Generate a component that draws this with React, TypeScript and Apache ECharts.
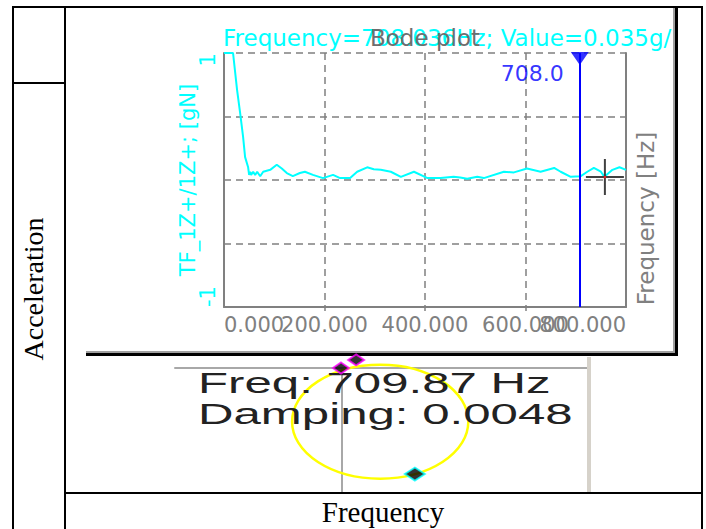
import React, { useEffect, useRef } from 'react';
import * as echarts from 'echarts';

// ---- Bode plot data (TF_1Z+/1Z+, g/N) ----
const freqHz = [0, 18, 26, 32, 38, 42, 48, 50, 52, 54, 58, 62, 66, 72, 78, 92, 105, 115, 125, 137, 151, 161, 177, 197, 217, 231, 251, 265, 285, 298, 312, 332, 352, 378, 405, 431, 457, 470, 484, 504, 517, 557, 577, 603, 630, 657, 670, 690, 710, 723, 736, 750, 757, 773, 787, 800];
const tfValue = [1.0, 1.0, 0.71, 0.53, 0.34, 0.18, 0.1, 0.04, 0.065, 0.04, 0.065, 0.04, 0.065, 0.03, 0.065, 0.08, 0.12, 0.09, 0.055, 0.03, 0.055, 0.065, 0.04, 0.015, 0.04, 0.015, 0.015, 0.065, 0.1, 0.085, 0.08, 0.065, 0.025, 0.065, 0.015, 0.015, 0.025, 0.02, 0.01, 0.025, 0.015, 0.065, 0.06, 0.09, 0.065, 0.095, 0.065, 0.025, 0.03, 0.065, 0.095, 0.065, 0.025, 0.08, 0.1, 0.08];
const xRange = [0, 800];
const xStep = 200;
const yRange = [-1, 1];
const yStep = 0.5;
const cursorFreq = 708.0;
const cursorTop = 1;
const crossPoint = [758, 0.024];

// ---- Mode indicator (Nyquist) panel data ----
const nyqXRange = [-0.41, 0.6];
const nyqYRange = [-1, 0];
const modeCircle = [[0.093, -0.433, 0.216, 0.46]]; // cx, cy, rx, ry
const magentaMarks = [[0.034, 0.065], [-0.003, 0.0]];
const cyanMarks = [[0.178, -0.855]];

// ---- Texts ----
const headerText = 'Frequency=708.036Hz; Value=0.035g/N';
const titleText = 'Bode plot';
const yName = 'TF_1Z+/1Z+; [gN]';
const rightName = 'Frequency [Hz]';
const cursorLabel = '708.0';
const modeFreq = 'Freq: 709.87 Hz';
const modeDamping = 'Damping: 0.0048';
const rowLabel = 'Acceleration';
const colLabel = 'Frequency';

const GRAY = '#808080';
const CYAN = '#00ffff';
const BLUE = '#0000ff';
const SANS = 'DejaVu Sans';
const SERIF = 'Liberation Serif';

function rect(x: number, y: number, w: number, h: number, fill: string, z = 100) {
  return { type: 'rect', z, silent: true, shape: { x, y, width: w, height: h }, style: { fill } };
}

const isEnd = (v: number) => v === xRange[0] || v === xRange[1];

export default function App() {
  const ref = useRef<HTMLDivElement>(null);
  useEffect(() => {
    if (!ref.current) return;
    const chart = echarts.init(ref.current, null, { renderer: 'svg' });
    const dash = { color: GRAY, width: 1.5, type: [7, 5] };
    const xLabelBase = { color: GRAY, fontFamily: SANS, fontSize: 21, margin: 7, hideOverlap: false };
    const mainGrid = { left: 224, right: 80, top: 53, bottom: 222, outerBoundsMode: 'none' };
    const option: any = {
      animation: false,
      backgroundColor: '#ffffff',
      title: [
        { text: headerText, left: 223, top: 26, padding: 0, z: 6, textStyle: { color: CYAN, fontFamily: SANS, fontSize: 23, fontWeight: 'normal' } },
        { text: titleText, left: 425, top: 26, padding: 0, z: 7, textAlign: 'center', textStyle: { color: '#6e6e6e', fontFamily: SANS, fontSize: 23, fontWeight: 'normal' } },
      ],
      grid: [
        mainGrid,
        { left: 175, right: 119, top: 368, bottom: 37, outerBoundsMode: 'none' },
        mainGrid,
      ],
      xAxis: [
        {
          type: 'value', gridIndex: 0, min: xRange[0], max: xRange[1], interval: xStep,
          axisLine: { show: true, onZero: false, lineStyle: { color: GRAY, width: 2 } },
          axisTick: { show: true, length: 4, lineStyle: { color: GRAY, width: 1.5 } },
          axisLabel: {
            ...xLabelBase,
            formatter: (v: number) => (isEnd(v) ? '' : v.toFixed(3)),
            showMinLabel: false, showMaxLabel: false,
          },
          splitLine: { show: true, lineStyle: dash },
        },
        {
          type: 'value', gridIndex: 1, min: nyqXRange[0], max: nyqXRange[1], position: 'top',
          axisLine: { show: true, onZero: true, lineStyle: { color: '#a8a8a8', width: 2 } },
          axisTick: { show: false }, axisLabel: { show: false }, splitLine: { show: false },
        },
        {
          type: 'value', gridIndex: 2, min: xRange[0], max: xRange[1], interval: xStep,
          axisLine: { show: false, onZero: false }, axisTick: { show: false }, splitLine: { show: false },
          axisLabel: {
            ...xLabelBase,
            formatter: (v: number) => (isEnd(v) ? v.toFixed(3) : ''),
            alignMinLabel: 'left', alignMaxLabel: 'right', showMinLabel: true, showMaxLabel: true,
          },
        },
      ],
      yAxis: [
        {
          type: 'value', gridIndex: 0, min: yRange[0], max: yRange[1], interval: yStep,
          name: yName, nameLocation: 'middle', nameGap: 26, nameMoveOverlap: false,
          nameTextStyle: { color: CYAN, fontFamily: SANS, fontSize: 21, padding: [0, 0, 0, 0] },
          axisLine: { show: true, onZero: false, lineStyle: { color: GRAY, width: 2 } },
          axisTick: { show: false },
          axisLabel: {
            color: CYAN, fontFamily: SANS, fontSize: 21, margin: 6, rotate: 90,
            formatter: (v: number) => (v === yRange[1] || v === yRange[0] ? String(v) : ''),
            alignMinLabel: 'left', alignMaxLabel: 'right', showMinLabel: true, showMaxLabel: true, hideOverlap: false,
          },
          splitLine: { show: true, lineStyle: dash },
        },
        {
          type: 'value', gridIndex: 0, position: 'right', min: yRange[0], max: yRange[1], interval: yStep,
          name: rightName, nameLocation: 'middle', nameGap: 8, nameMoveOverlap: false,
          nameTextStyle: { color: GRAY, fontFamily: SANS, fontSize: 23, padding: [0, 77, 0, 0] },
          axisLine: { show: true, onZero: false, lineStyle: { color: GRAY, width: 2 } },
          axisTick: { show: false }, axisLabel: { show: false }, splitLine: { show: false },
        },
        {
          type: 'value', gridIndex: 1, min: nyqYRange[0], max: nyqYRange[1],
          axisLine: { show: true, onZero: true, lineStyle: { color: '#a8a8a8', width: 2 } },
          axisTick: { show: false }, axisLabel: { show: false }, splitLine: { show: false },
        },
        {
          type: 'value', gridIndex: 2, min: yRange[0], max: yRange[1], show: false,
        },
      ],
      series: [
        {
          type: 'line', xAxisIndex: 0, yAxisIndex: 0, z: 3,
          data: freqHz.map((f, i) => [f, tfValue[i]]),
          showSymbol: false, symbol: 'none',
          lineStyle: { color: CYAN, width: 2 }, itemStyle: { color: CYAN },
          markLine: {
            silent: true, symbol: ['none', 'none'],
            lineStyle: { color: BLUE, width: 2, type: 'solid' },
            label: { show: false },
            data: [{ xAxis: cursorFreq }],
          },
        },
        {
          type: 'scatter', xAxisIndex: 0, yAxisIndex: 0, z: 5, clip: false,
          data: [[cursorFreq, cursorTop]],
          symbol: 'triangle', symbolRotate: 180, symbolSize: [18, 13], symbolOffset: [0, 5.5],
          itemStyle: { color: BLUE },
          label: { show: true, position: 'left', distance: 7, offset: [0, 14.5], formatter: () => cursorLabel, color: BLUE, fontFamily: SANS, fontSize: 22 },
        },
        {
          type: 'scatter', xAxisIndex: 0, yAxisIndex: 0, z: 6, clip: false,
          data: [crossPoint],
          symbol: 'path://M0,17H38V19H0ZM18,0H20V36H18Z', symbolSize: [38, 36],
          itemStyle: { color: '#111111' },
        },
        {
          type: 'scatter', xAxisIndex: 0, yAxisIndex: 0, z: 7, clip: false,
          data: [crossPoint], symbol: 'circle', symbolSize: 3,
          itemStyle: { color: '#ff2020' },
        },
        {
          type: 'custom', xAxisIndex: 1, yAxisIndex: 2, z: 2, clip: false,
          data: modeCircle,
          renderItem: (params: any, api: any) => {
            const c = api.coord([api.value(0), api.value(1)]);
            const s = api.size([api.value(2), api.value(3)]);
            const rx = s[0];
            const ry = s[1];
            const d = `M${c[0] - rx},${c[1]}A${rx},${ry},0,1,0,${c[0] + rx},${c[1]}A${rx},${ry},0,1,0,${c[0] - rx},${c[1]}Z`;
            return {
              type: 'path',
              shape: { pathData: d, x: c[0] - rx, y: c[1] - ry, width: 2 * rx, height: 2 * ry },
              style: { fill: 'none', stroke: '#ffff00', lineWidth: 2.5 },
            };
          },
        },
        {
          type: 'scatter', xAxisIndex: 1, yAxisIndex: 2, z: 150, clip: false,
          data: magentaMarks, symbol: 'diamond', symbolSize: [16, 11],
          itemStyle: { color: '#000000', borderColor: '#ff00ff', borderWidth: 2 },
        },
        {
          type: 'scatter', xAxisIndex: 1, yAxisIndex: 2, z: 150, clip: false,
          data: cyanMarks, symbol: 'diamond', symbolSize: [20, 13],
          itemStyle: { color: '#000000', borderColor: '#00ffff', borderWidth: 2 },
        },
      ],
      graphic: [
        rect(678, 8, 23, 348, '#ffffff', 90),
        rect(673, 8, 2, 346, '#a0a0a0'),
        rect(675, 8, 3, 348, '#000000'),
        rect(86, 351, 589, 2, '#a0a0a0'),
        rect(86, 353, 592, 3, '#000000'),
        rect(587, 357, 4, 135, '#d6d2ca'),
        rect(12, 6, 691, 2, '#000000'),
        rect(12, 6, 2, 523, '#000000'),
        rect(64, 6, 2, 523, '#000000'),
        rect(701, 6, 2, 523, '#000000'),
        rect(12, 82, 54, 2, '#000000'),
        rect(64, 492, 639, 2, '#000000'),
        {
          type: 'text', x: 198, y: 383, z: 20, scaleX: 1.64,
          style: { text: modeFreq, fontFamily: 'Liberation Sans', fontSize: 30, fill: '#222222', align: 'left', verticalAlign: 'middle' },
        },
        {
          type: 'text', x: 198, y: 414, z: 20, scaleX: 1.64,
          style: { text: modeDamping, fontFamily: 'Liberation Sans', fontSize: 30, fill: '#222222', align: 'left', verticalAlign: 'middle' },
        },
        {
          type: 'text', x: 33, y: 289, z: 20, rotation: Math.PI / 2,
          style: { text: rowLabel, fontFamily: SERIF, fontSize: 28, fill: '#000000', align: 'center', verticalAlign: 'middle' },
        },
        {
          type: 'text', x: 383, y: 512, z: 20,
          style: { text: colLabel, fontFamily: SERIF, fontSize: 29, fill: '#000000', align: 'center', verticalAlign: 'middle' },
        },
      ],
    };
    chart.setOption(option);
    return () => chart.dispose();
  }, []);
  return <div ref={ref} style={{ position: 'absolute', left: 0, top: 0, width: 706, height: 529 }} />;
}
